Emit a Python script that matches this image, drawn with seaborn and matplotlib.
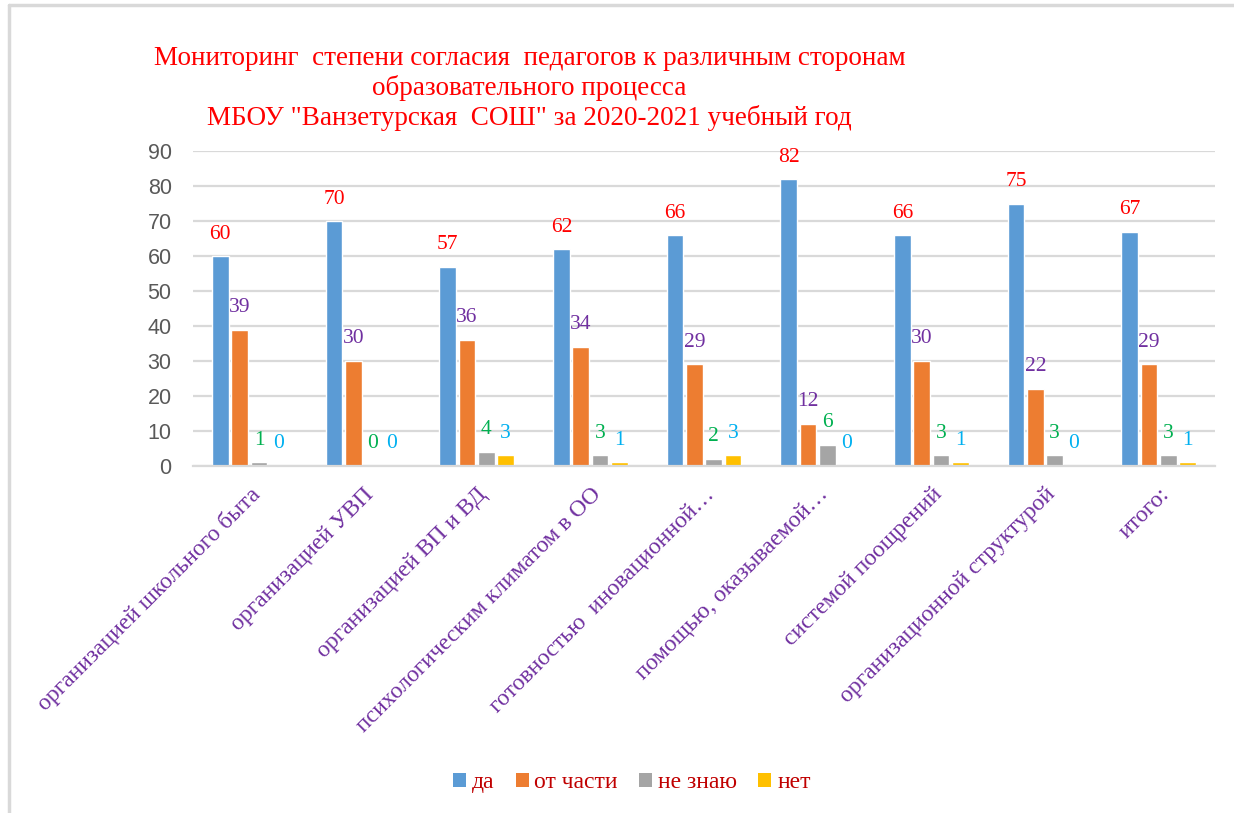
import matplotlib
matplotlib.use("Agg")
from matplotlib import pyplot as plt
from matplotlib.lines import Line2D
from matplotlib.patches import Patch
import seaborn as sns
import pandas as pd

categories = [
    "организацией школьного быта",
    "организацией УВП",
    "организацией ВП и ВД",
    "психологическим климатом в ОО",
    "готовностью  иновационной…",
    "помощью, оказываемой…",
    "системой поощрений",
    "организационной структурой",
    "итого:",
]
series = ["да", "от части", "не знаю", "нет"]
da = [60, 70, 57, 62, 66, 82, 66, 75, 67]
ot_chasti = [39, 30, 36, 34, 29, 12, 30, 22, 29]
ne_znayu = [1, 0, 4, 3, 2, 6, 3, 3, 3]
net = [0, 0, 3, 1, 3, 0, 1, 0, 1]

title = ("Мониторинг  степени согласия  педагогов к различным сторонам\n"
         "образовательного процесса\n"
         "МБОУ \"Ванзетурская  СОШ\" за 2020-2021 учебный год")

bar_colors = ["#5B9BD5", "#ED7D31", "#A5A5A5", "#FFC000"]
label_colors = ["#FF0000", "#7030A0", "#00B050", "#00B0F0"]

df = pd.DataFrame({
    "category": categories * 4,
    "series": sum([[s] * len(categories) for s in series], []),
    "value": da + ot_chasti + ne_znayu + net,
})

sns.set_theme(style="white")
plt.rcParams["font.family"] = ["Liberation Serif", "DejaVu Serif"]

fig = plt.figure(figsize=(12.34, 8.13), dpi=100)
ax = fig.add_axes([0.156, 0.427, 0.829, 0.387])

sns.barplot(
    data=df, x="category", y="value", hue="series", hue_order=series,
    palette=bar_colors, saturation=1, width=0.68, gap=0.15,
    legend=False, ax=ax,
)

for cont, col in zip(ax.containers, label_colors):
    ax.bar_label(cont, fmt="%d", color=col, fontsize=15.5, padding=9)

ax.set_ylim(0, 90)
ax.set_yticks(range(0, 91, 10))
ax.set_xlim(-0.5, len(categories) - 0.5)
ax.grid(axis="y", color="#D9D9D9", linewidth=1.6)
ax.set_axisbelow(True)
for side in ["top", "right", "left"]:
    ax.spines[side].set_visible(False)
ax.spines["bottom"].set_color("#D9D9D9")
ax.spines["bottom"].set_linewidth(1.6)
ax.set_xlabel("")
ax.set_ylabel("")

ax.tick_params(axis="y", length=0, pad=15, labelsize=15.5, labelcolor="#595959")
for lab in ax.get_yticklabels():
    lab.set_fontfamily("Liberation Sans")
ax.tick_params(axis="x", length=0, pad=13)
ax.set_xticks(range(len(categories)))
ax.set_xticklabels(categories, rotation=45, ha="right", rotation_mode="anchor",
                   fontsize=17, color="#7030A0")

fig.text(0.429, 0.944, title, ha="center", va="top", color="#FF0000",
         fontsize=19.5, linespacing=1.2)

handles = [Patch(facecolor=c, edgecolor="none") for c in bar_colors]
leg = fig.legend(handles, series, loc="center", bbox_to_anchor=(0.512, 0.037),
                 ncol=4, frameon=False, fontsize=17, handlelength=0.55,
                 handleheight=0.55, handletextpad=0.25, columnspacing=0.9)
for t in leg.get_texts():
    t.set_color("#C00000")

# light frame of the chart area
fig.add_artist(Line2D([9 / 1234, 9 / 1234], [0, 1 - 5 / 813],
                      transform=fig.transFigure, color="#D9D9D9", linewidth=2.5))
fig.add_artist(Line2D([9 / 1234, 1], [1 - 5 / 813, 1 - 5 / 813],
                      transform=fig.transFigure, color="#D9D9D9", linewidth=2.5))

plt.savefig("out.png", dpi=100)
